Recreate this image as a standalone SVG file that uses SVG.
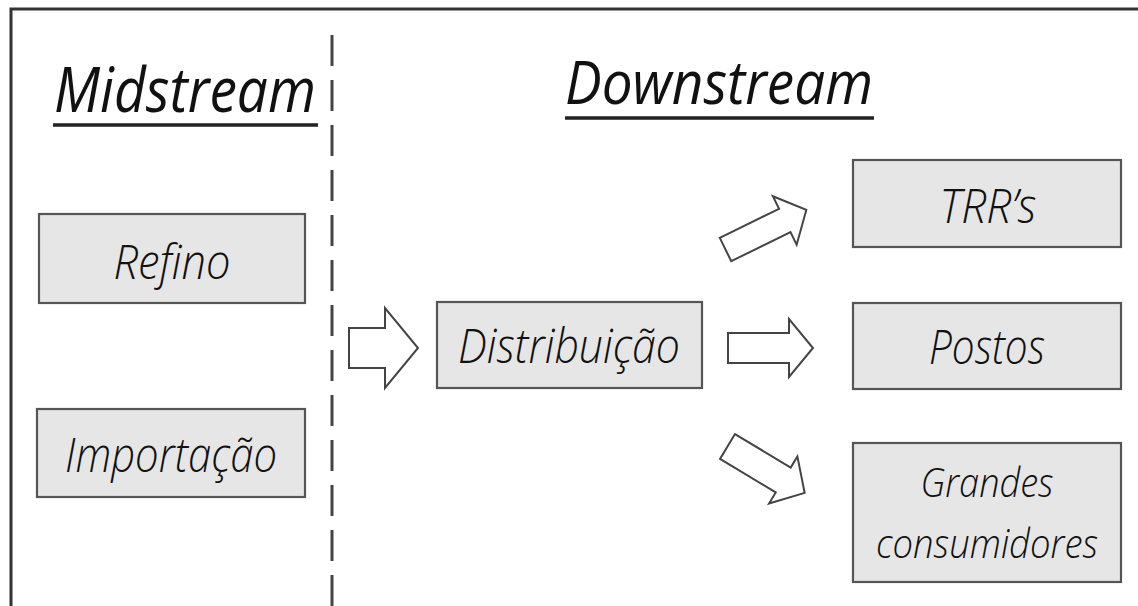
<svg xmlns="http://www.w3.org/2000/svg" width="1138" height="606" viewBox="0 0 1138 606">
  <style>
    .frame { stroke: #333; stroke-width: 3; fill: none; }
    .divider { stroke: #444; stroke-width: 3; stroke-dasharray: 31 14; fill: none; }
    .box rect { fill: #e6e6e6; stroke: #555; stroke-width: 2.2; }
    .lbl { font-family: "Open Sans", "Noto Sans", sans-serif; font-style: italic; font-weight: 300; fill: #111; text-anchor: middle; }
    .head { font-family: "Open Sans", "Noto Sans", sans-serif; font-style: italic; fill: #111; }
    .uline { stroke: #222; stroke-width: 3.5; }
    .arrow { fill: #fff; stroke: #444; stroke-width: 2; stroke-linejoin: miter; }
  </style>

  <!-- page frame: top and left edges -->
  <path class="frame" d="M11,606 V9 H1138"/>

  <!-- section divider -->
  <line class="divider" x1="332" y1="35" x2="332" y2="606"/>

  <!-- section headings -->
  <g id="heading-midstream">
    <text class="head" x="54" y="112" font-size="62" textLength="262" lengthAdjust="spacingAndGlyphs">Midstream</text>
    <line class="uline" x1="53" y1="125" x2="318" y2="125"/>
  </g>
  <g id="heading-downstream">
    <text class="head" x="565" y="104" font-size="60" textLength="308" lengthAdjust="spacingAndGlyphs">Downstream</text>
    <line class="uline" x1="565" y1="118" x2="874" y2="118"/>
  </g>

  <!-- nodes -->
  <g id="refino" class="box">
    <rect x="39" y="214" width="266" height="89"/>
    <text class="lbl" x="172" y="279" font-size="48" textLength="117" lengthAdjust="spacingAndGlyphs">Refino</text>
  </g>
  <g id="importacao" class="box">
    <rect x="37" y="409" width="268" height="88"/>
    <text class="lbl" x="171" y="472" font-size="48" textLength="212" lengthAdjust="spacingAndGlyphs">Importação</text>
  </g>
  <g id="distribuicao" class="box">
    <rect x="437" y="302" width="265" height="86"/>
    <text class="lbl" x="569" y="363" font-size="48" textLength="222" lengthAdjust="spacingAndGlyphs">Distribuição</text>
  </g>
  <g id="trrs" class="box">
    <rect x="853" y="160" width="268" height="87"/>
    <text class="lbl" x="988" y="223" font-size="48" textLength="97" lengthAdjust="spacingAndGlyphs">TRR’s</text>
  </g>
  <g id="postos" class="box">
    <rect x="853" y="303" width="268" height="86"/>
    <text class="lbl" x="987" y="364" font-size="48" textLength="116" lengthAdjust="spacingAndGlyphs">Postos</text>
  </g>
  <g id="grandes-consumidores" class="box">
    <rect x="853" y="443" width="268" height="139"/>
    <text class="lbl" x="987" y="497" font-size="40" textLength="133" lengthAdjust="spacingAndGlyphs">Grandes</text>
    <text class="lbl" x="987" y="558" font-size="40" textLength="222" lengthAdjust="spacingAndGlyphs">consumidores</text>
  </g>

  <!-- block-arrow connectors -->
  <g id="connectors">
    <polygon class="arrow" transform="translate(349,348)" points="0,-20 36,-20 36,-40 69,0 36,40 36,20 0,20"/>
    <polygon class="arrow" transform="translate(728,348)" points="0,-15 61,-15 61,-29 85,0 61,29 61,15 0,15"/>
    <polygon class="arrow" transform="translate(725.5,249.5) rotate(-26.1)" points="0,-13 66,-13 66,-27 90,0 66,27 66,13 0,13"/>
    <polygon class="arrow" transform="translate(727.5,446.5) rotate(31)" points="0,-14.5 65,-14.5 65,-27.5 90,0 65,27.5 65,14.5 0,14.5"/>
  </g>
</svg>
